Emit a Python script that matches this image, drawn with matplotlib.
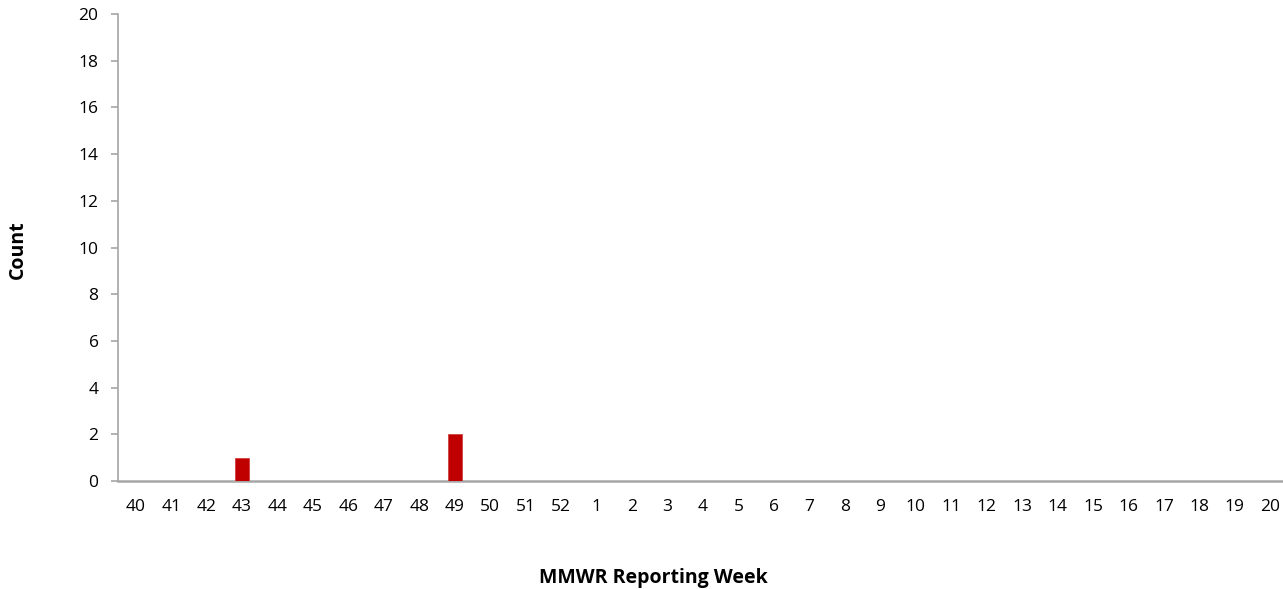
import matplotlib.pyplot as plt
import numpy as np

plt.rcParams['font.family'] = ['Open Sans', 'DejaVu Sans']

# MMWR weeks 40-52, then 1-20
weeks = [str(w) for w in range(40, 53)] + [str(w) for w in range(1, 21)]
counts = [0, 0, 0, 1, 0, 0, 0, 0, 0, 2, 0, 0, 0] + [0] * 20
y_ticks = list(range(0, 21, 2))

fig = plt.figure(figsize=(12.83, 5.89), dpi=100)
# axis runs slightly past the right edge of the picture, as in the original
ax = fig.add_axes([118 / 1283, 1 - 481 / 589, (1288 - 118) / 1283, (481 - 14) / 589])

x = np.arange(len(weeks))
ax.bar(x, counts, width=0.39, color='#C00000', edgecolor='#D04040', linewidth=0.6, zorder=3)

ax.set_xlim(-0.5, len(weeks) - 0.5)
ax.set_ylim(0, 20)
ax.set_xticks(x)
ax.set_xticklabels(weeks)
ax.set_yticks(y_ticks)

for s in ['top', 'right']:
    ax.spines[s].set_visible(False)
ax.spines['left'].set_color('#A6A6A6')
ax.spines['bottom'].set_color('#A6A6A6')
ax.spines['bottom'].set_linewidth(1.8)
ax.spines['left'].set_linewidth(1.2)

ax.tick_params(axis='x', length=0, pad=13, labelsize=12.5, colors='#000000')
ax.tick_params(axis='y', length=5, width=1.2, color='#A6A6A6', pad=9, labelsize=12.5)

fig.text(653 / 1283, 1 - 578 / 589, 'MMWR Reporting Week', ha='center', va='center',
         fontsize=14, fontweight='bold')
fig.text(18 / 1283, 1 - 250 / 589, 'Count', ha='center', va='center', rotation=90,
         fontsize=14, fontweight='bold')

fig.savefig('out.png', dpi=100)
